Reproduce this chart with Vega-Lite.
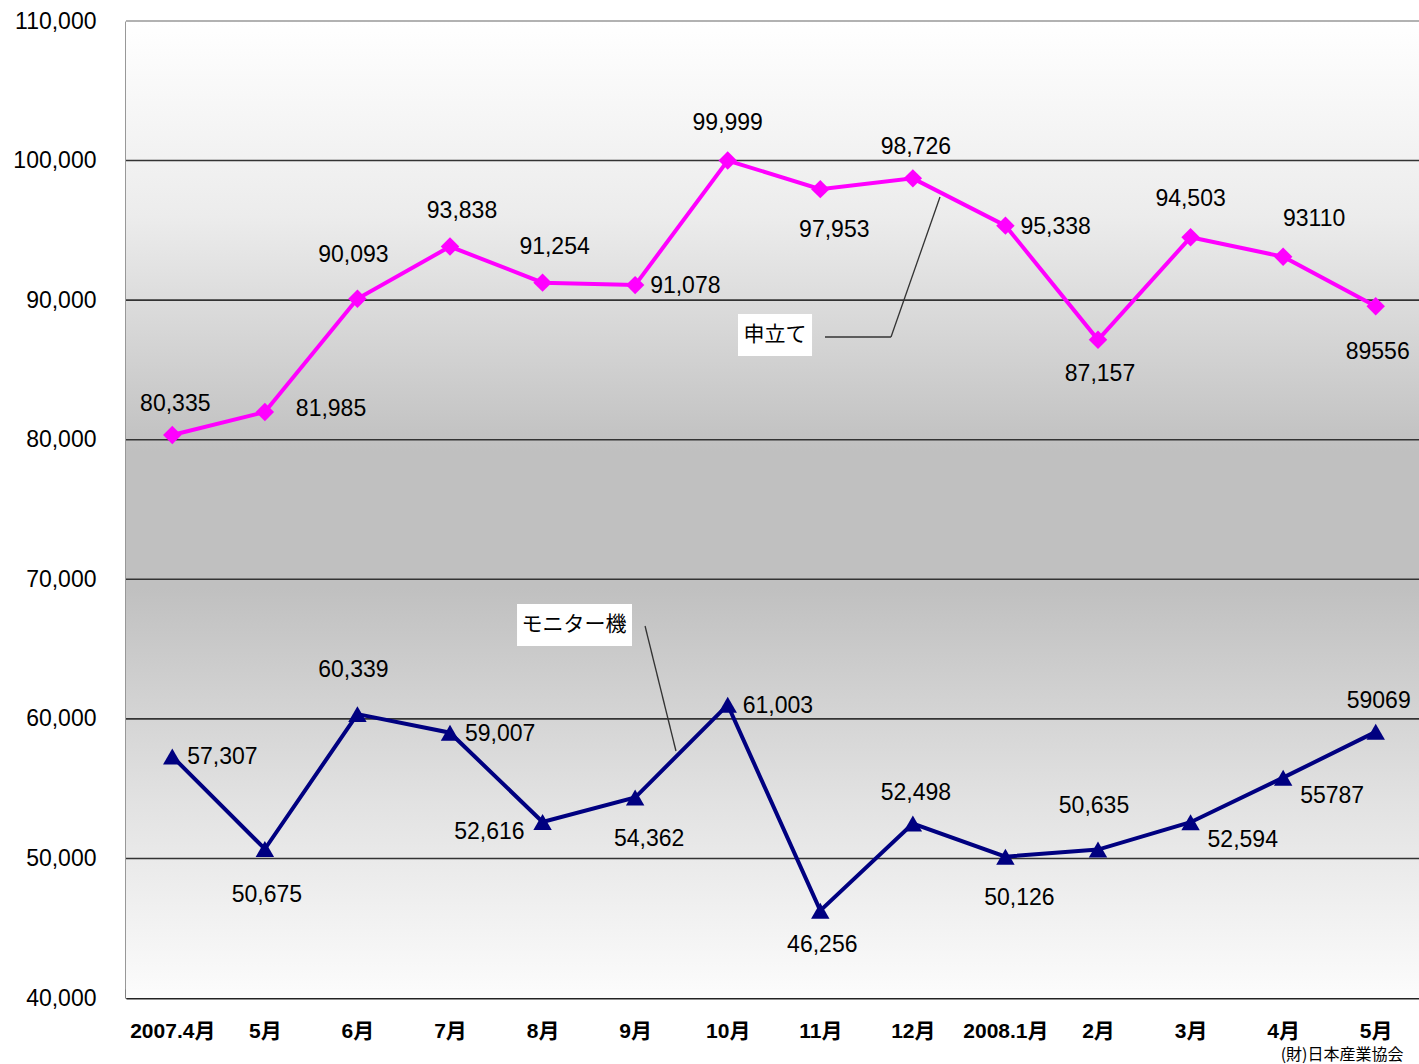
{
  "$schema": "https://vega.github.io/schema/vega-lite/v6.json",
  "width": 1296,
  "height": 977,
  "padding": {"left": 5, "top": 10, "right": 0, "bottom": 10},
  "background": "white",
  "config": {"view": {"stroke": null}, "font": "Liberation Sans, Noto Sans CJK JP"},
  "datasets": {
    "main": [
      {"month": "2007-04", "series": "申立て", "value": 80335, "label": "80,335"},
      {"month": "2007-05", "series": "申立て", "value": 81985, "label": "81,985"},
      {"month": "2007-06", "series": "申立て", "value": 90093, "label": "90,093"},
      {"month": "2007-07", "series": "申立て", "value": 93838, "label": "93,838"},
      {"month": "2007-08", "series": "申立て", "value": 91254, "label": "91,254"},
      {"month": "2007-09", "series": "申立て", "value": 91078, "label": "91,078"},
      {"month": "2007-10", "series": "申立て", "value": 99999, "label": "99,999"},
      {"month": "2007-11", "series": "申立て", "value": 97953, "label": "97,953"},
      {"month": "2007-12", "series": "申立て", "value": 98726, "label": "98,726"},
      {"month": "2008-01", "series": "申立て", "value": 95338, "label": "95,338"},
      {"month": "2008-02", "series": "申立て", "value": 87157, "label": "87,157"},
      {"month": "2008-03", "series": "申立て", "value": 94503, "label": "94,503"},
      {"month": "2008-04", "series": "申立て", "value": 93110, "label": "93110"},
      {"month": "2008-05", "series": "申立て", "value": 89556, "label": "89556"},
      {"month": "2007-04", "series": "モニター機", "value": 57307, "label": "57,307"},
      {"month": "2007-05", "series": "モニター機", "value": 50675, "label": "50,675"},
      {"month": "2007-06", "series": "モニター機", "value": 60339, "label": "60,339"},
      {"month": "2007-07", "series": "モニター機", "value": 59007, "label": "59,007"},
      {"month": "2007-08", "series": "モニター機", "value": 52616, "label": "52,616"},
      {"month": "2007-09", "series": "モニター機", "value": 54362, "label": "54,362"},
      {"month": "2007-10", "series": "モニター機", "value": 61003, "label": "61,003"},
      {"month": "2007-11", "series": "モニター機", "value": 46256, "label": "46,256"},
      {"month": "2007-12", "series": "モニター機", "value": 52498, "label": "52,498"},
      {"month": "2008-01", "series": "モニター機", "value": 50126, "label": "50,126"},
      {"month": "2008-02", "series": "モニター機", "value": 50635, "label": "50,635"},
      {"month": "2008-03", "series": "モニター機", "value": 52594, "label": "52,594"},
      {"month": "2008-04", "series": "モニター機", "value": 55787, "label": "55787"},
      {"month": "2008-05", "series": "モニター機", "value": 59069, "label": "59069"}
    ],
    "grid": [
      {"g": 50000}, {"g": 60000}, {"g": 70000}, {"g": 80000}, {"g": 90000}, {"g": 100000}, {"g": 110000}
    ],
    "boxes": [
      {"x": 6.111, "x2": 6.911, "y": 89007, "y2": 85998, "t": "申立て", "tx": 6.511, "ty": 87503},
      {"x": 3.724, "x2": 4.966, "y": 68229, "y2": 65220, "t": "モニター機", "tx": 4.34, "ty": 66725}
    ],
    "leaders": [
      {"x": 7.051, "y": 87359, "x2": 7.764, "y2": 87359},
      {"x": 7.764, "y": 87359, "x2": 8.293, "y2": 97390},
      {"x": 5.107, "y": 66653, "x2": 5.441, "y2": 57697}
    ]
  },
  "resolve": {"scale": {"x": "independent"}},
  "layer": [
    {
      "data": {"values": [{}]},
      "mark": {"type": "rect", "color": {"gradient": "linear", "x1": 0, "y1": 0, "x2": 0, "y2": 1,
        "stops": [
          {"offset": 0, "color": "#ffffff"},
          {"offset": 0.2, "color": "#ececec"},
          {"offset": 0.44, "color": "#c0c0c0"},
          {"offset": 0.58, "color": "#c0c0c0"},
          {"offset": 0.8, "color": "#e2e2e2"},
          {"offset": 1, "color": "#fcfcfc"}
        ]}},
      "encoding": {
        "y": {"datum": 110000, "type": "quantitative",
          "scale": {"domain": [40000, 110000], "nice": false, "zero": false}},
        "y2": {"datum": 40000}
      }
    },
    {
      "data": {"name": "grid"},
      "mark": {"type": "rule", "strokeWidth": 1.6},
      "encoding": {
        "y": {"field": "g", "type": "quantitative",
          "axis": {"title": null, "values": [40000, 50000, 60000, 70000, 80000, 90000, 100000, 110000],
            "format": ",.0f", "labelExpr": "format(datum.value, ',')", "grid": false, "ticks": false, "domainColor": "#333333", "domainWidth": 2,
            "labelFont": "Liberation Sans", "labelFontSize": 23, "labelColor": "#000000",
            "labelPadding": 30, "minExtent": 121, "maxExtent": 121}},
        "color": {"condition": {"test": "datum.g == 110000", "value": "#999999"}, "value": "#333333"}
      }
    },
    {
      "layer": [
        {
          "data": {"name": "boxes"},
          "mark": {"type": "rect", "fill": "#ffffff"},
          "encoding": {
            "x": {"field": "x", "type": "quantitative", "scale": {"domain": [-0.5, 13.5], "nice": false, "zero": false}, "axis": null},
            "x2": {"field": "x2"},
            "y": {"field": "y", "type": "quantitative"},
            "y2": {"field": "y2"}
          }
        },
        {
          "data": {"name": "leaders"},
          "mark": {"type": "rule", "color": "#333333", "strokeWidth": 1.3},
          "encoding": {
            "x": {"field": "x", "type": "quantitative", "axis": null},
            "x2": {"field": "x2"},
            "y": {"field": "y", "type": "quantitative"},
            "y2": {"field": "y2"}
          }
        },
        {
          "data": {"name": "boxes"},
          "mark": {"type": "text", "font": "Noto Sans CJK JP", "fontSize": 21, "color": "#000000", "baseline": "middle", "align": "center"},
          "encoding": {
            "x": {"field": "tx", "type": "quantitative", "axis": null},
            "y": {"field": "ty", "type": "quantitative"},
            "text": {"field": "t"}
          }
        }
      ]
    },
    {
      "data": {"name": "main"},
      "encoding": {
        "x": {"field": "month", "type": "nominal",
          "scale": {"type": "band", "paddingInner": 0, "paddingOuter": 0,
            "domain": ["2007-04", "2007-05", "2007-06", "2007-07", "2007-08", "2007-09", "2007-10", "2007-11", "2007-12", "2008-01", "2008-02", "2008-03", "2008-04", "2008-05"]},
          "axis": {
            "title": "(財)日本産業協会", "titleFont": "Noto Sans CJK JP", "titleFontSize": 16, "titleFontWeight": "normal",
            "titleAlign": "right", "titleBaseline": "middle", "titleX": 1277, "titleY": 56, "titleColor": "#000000",
            "labelExpr": "['2007.4月','5月','6月','7月','8月','9月','10月','11月','12月','2008.1月','2月','3月','4月','5月'][indexof(['2007-04','2007-05','2007-06','2007-07','2007-08','2007-09','2007-10','2007-11','2007-12','2008-01','2008-02','2008-03','2008-04','2008-05'], datum.value)]",
            "labelAngle": 0, "labelFont": "Liberation Sans, Noto Sans CJK JP", "labelFontWeight": "bold", "labelFontSize": 21,
            "labelColor": "#000000", "labelPadding": 31, "labelBaseline": "top",
            "tickBand": "extent", "tickSize": -9, "tickColor": "#333333", "tickWidth": 1.5,
            "domainColor": "#222222", "domainWidth": 2, "grid": false
          }},
        "y": {"field": "value", "type": "quantitative"},
        "color": {"field": "series", "type": "nominal", "scale": {"domain": ["申立て", "モニター機"], "range": ["#ff00ff", "#000080"]}, "legend": null}
      },
      "layer": [
        {"mark": {"type": "line", "strokeWidth": 4}},
        {"mark": {"type": "point", "filled": true, "opacity": 1},
          "encoding": {"shape": {"field": "series", "type": "nominal", "scale": {"domain": ["申立て", "モニター機"], "range": ["diamond", "triangle-up"]}, "legend": null},
            "size": {"value": 340}}},
        {"transform": [{"filter": "indexof(['申立て 2007-04','申立て 2007-12','モニター機 2007-12','モニター機 2008-05'], datum.series + ' ' + datum.month) >= 0"}],
          "mark": {"type": "text", "fontSize": 23, "font": "Liberation Sans", "align": "center", "baseline": "middle", "dx": 3, "dy": -31},
          "encoding": {"text": {"field": "label"}, "color": {"value": "#000000"}}},
        {"transform": [{"filter": "indexof(['申立て 2007-06','モニター機 2007-06','モニター機 2008-02'], datum.series + ' ' + datum.month) >= 0"}],
          "mark": {"type": "text", "fontSize": 23, "font": "Liberation Sans", "align": "center", "baseline": "middle", "dx": -4, "dy": -44},
          "encoding": {"text": {"field": "label"}, "color": {"value": "#000000"}}},
        {"transform": [{"filter": "indexof(['申立て 2007-10','申立て 2008-03'], datum.series + ' ' + datum.month) >= 0"}],
          "mark": {"type": "text", "fontSize": 23, "font": "Liberation Sans", "align": "center", "baseline": "middle", "dx": 0, "dy": -38},
          "encoding": {"text": {"field": "label"}, "color": {"value": "#000000"}}},
        {"transform": [{"filter": "indexof(['申立て 2007-07','申立て 2007-08'], datum.series + ' ' + datum.month) >= 0"}],
          "mark": {"type": "text", "fontSize": 23, "font": "Liberation Sans", "align": "center", "baseline": "middle", "dx": 12, "dy": -36},
          "encoding": {"text": {"field": "label"}, "color": {"value": "#000000"}}},
        {"transform": [{"filter": "indexof(['申立て 2008-04'], datum.series + ' ' + datum.month) >= 0"}],
          "mark": {"type": "text", "fontSize": 23, "font": "Liberation Sans", "align": "center", "baseline": "middle", "dx": 31, "dy": -38},
          "encoding": {"text": {"field": "label"}, "color": {"value": "#000000"}}},
        {"transform": [{"filter": "indexof(['申立て 2008-02','モニター機 2007-11'], datum.series + ' ' + datum.month) >= 0"}],
          "mark": {"type": "text", "fontSize": 23, "font": "Liberation Sans", "align": "center", "baseline": "middle", "dx": 2, "dy": 34},
          "encoding": {"text": {"field": "label"}, "color": {"value": "#000000"}}},
        {"transform": [{"filter": "indexof(['申立て 2008-05','モニター機 2007-05'], datum.series + ' ' + datum.month) >= 0"}],
          "mark": {"type": "text", "fontSize": 23, "font": "Liberation Sans", "align": "center", "baseline": "middle", "dx": 2, "dy": 46},
          "encoding": {"text": {"field": "label"}, "color": {"value": "#000000"}}},
        {"transform": [{"filter": "indexof(['申立て 2007-11','モニター機 2007-09','モニター機 2008-01'], datum.series + ' ' + datum.month) >= 0"}],
          "mark": {"type": "text", "fontSize": 23, "font": "Liberation Sans", "align": "center", "baseline": "middle", "dx": 14, "dy": 41},
          "encoding": {"text": {"field": "label"}, "color": {"value": "#000000"}}},
        {"transform": [{"filter": "indexof(['申立て 2007-09','申立て 2008-01','モニター機 2007-04','モニター機 2007-07','モニター機 2007-10'], datum.series + ' ' + datum.month) >= 0"}],
          "mark": {"type": "text", "fontSize": 23, "font": "Liberation Sans", "align": "left", "baseline": "middle", "dx": 15, "dy": 1},
          "encoding": {"text": {"field": "label"}, "color": {"value": "#000000"}}},
        {"transform": [{"filter": "indexof(['申立て 2007-05'], datum.series + ' ' + datum.month) >= 0"}],
          "mark": {"type": "text", "fontSize": 23, "font": "Liberation Sans", "align": "left", "baseline": "middle", "dx": 31, "dy": -3},
          "encoding": {"text": {"field": "label"}, "color": {"value": "#000000"}}},
        {"transform": [{"filter": "indexof(['モニター機 2008-03','モニター機 2008-04'], datum.series + ' ' + datum.month) >= 0"}],
          "mark": {"type": "text", "fontSize": 23, "font": "Liberation Sans", "align": "left", "baseline": "middle", "dx": 17, "dy": 18},
          "encoding": {"text": {"field": "label"}, "color": {"value": "#000000"}}},
        {"transform": [{"filter": "indexof(['モニター機 2007-08'], datum.series + ' ' + datum.month) >= 0"}],
          "mark": {"type": "text", "fontSize": 23, "font": "Liberation Sans", "align": "right", "baseline": "middle", "dx": -18, "dy": 10},
          "encoding": {"text": {"field": "label"}, "color": {"value": "#000000"}}}
      ]
    }
  ]
}
